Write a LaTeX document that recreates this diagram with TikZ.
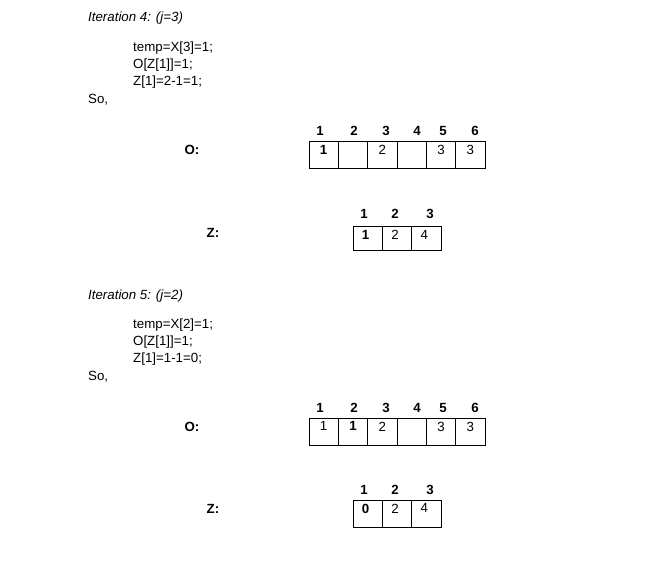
\documentclass[tikz,border=0pt]{standalone}
\usepackage{fontspec}
\setmainfont{Liberation Sans}
\begin{document}
\begin{tikzpicture}[x=1pt, y=-1pt, font=\fontsize{13.3}{16}\selectfont,
    cell/.style={draw, line width=0.8pt, minimum width=29.3pt, inner sep=0pt},
    val/.style={anchor=north, inner sep=0pt, yshift=-4pt},
    idx/.style={font=\fontsize{13.3}{16}\selectfont\bfseries, inner sep=0pt},
    txt/.style={anchor=west, inner sep=0pt}]
    \useasboundingbox (0,0) rectangle (653,561);
    % iteration 4
    \node[txt, font=\fontsize{13.3}{16}\selectfont\itshape] (it4) at (88, 18) {Iteration 4: (j=3)};
    \node[txt] (tmp4) at (133, 48) {temp=X[3]=1;};
    \node[txt] (oz4) at (133, 65) {O[Z[1]]=1;};
    \node[txt] (zz4) at (133, 82) {Z[1]=2-1=1;};
    \node[txt] (so4) at (88, 100) {So,};
    \node[idx] (olab4) at (192, 150) {O:};
    \foreach \x/\n in {320/1, 354/2, 386/3, 417/4, 443/5, 475/6}
        \node[idx] (oh4\n) at (\x, 131) {\n};
    \foreach \v [count=\i] in {\textbf{1}, {}, 2, {}, 3, 3} {
        \node[cell, minimum height=27pt] (oa\i) at (309+29.33*\i-14.67, 155) {};
        \node[val] (ov4\i) at (oa\i.north) {\v};
    }
    \node[idx] (zlab4) at (213, 233) {Z:};
    \foreach \x/\n in {364/1, 395/2, 430/3}
        \node[idx] (zh4\n) at (\x, 214) {\n};
    \foreach \v [count=\i] in {\textbf{1}, 2, 4} {
        \node[cell, minimum height=24pt] (za\i) at (353+29.33*\i-14.67, 238.5) {};
        \node[val, xshift=-2pt] (zv4\i) at (za\i.north) {\v};
    }
    % iteration 5
    \node[txt, font=\fontsize{13.3}{16}\selectfont\itshape] (it5) at (88, 296) {Iteration 5: (j=2)};
    \node[txt] (tmp5) at (133, 325) {temp=X[2]=1;};
    \node[txt] (oz5) at (133, 342) {O[Z[1]]=1;};
    \node[txt] (zz5) at (133, 359) {Z[1]=1-1=0;};
    \node[txt] (so5) at (88, 377) {So,};
    \node[idx] (olab5) at (192, 427) {O:};
    \foreach \x/\n in {320/1, 354/2, 386/3, 417/4, 443/5, 475/6}
        \node[idx] (oh5\n) at (\x, 408) {\n};
    \foreach \v [count=\i] in {1, \textbf{1}, 2, {}, 3, 3} {
        \node[cell, minimum height=27pt] (ob\i) at (309+29.33*\i-14.67, 431.5) {};
        \node[val] (ov5\i) at (ob\i.north) {\v};
    }
    \node[idx] (zlab5) at (213, 509) {Z:};
    \foreach \x/\n in {364/1, 395/2, 430/3}
        \node[idx] (zh5\n) at (\x, 490) {\n};
    \foreach \v [count=\i] in {\textbf{0}, 2, 4} {
        \node[cell, minimum height=27pt] (zb\i) at (353+29.33*\i-14.67, 513.5) {};
        \node[val, xshift=-2pt] (zv5\i) at (zb\i.north) {\v};
    }
\end{tikzpicture}
\end{document}
